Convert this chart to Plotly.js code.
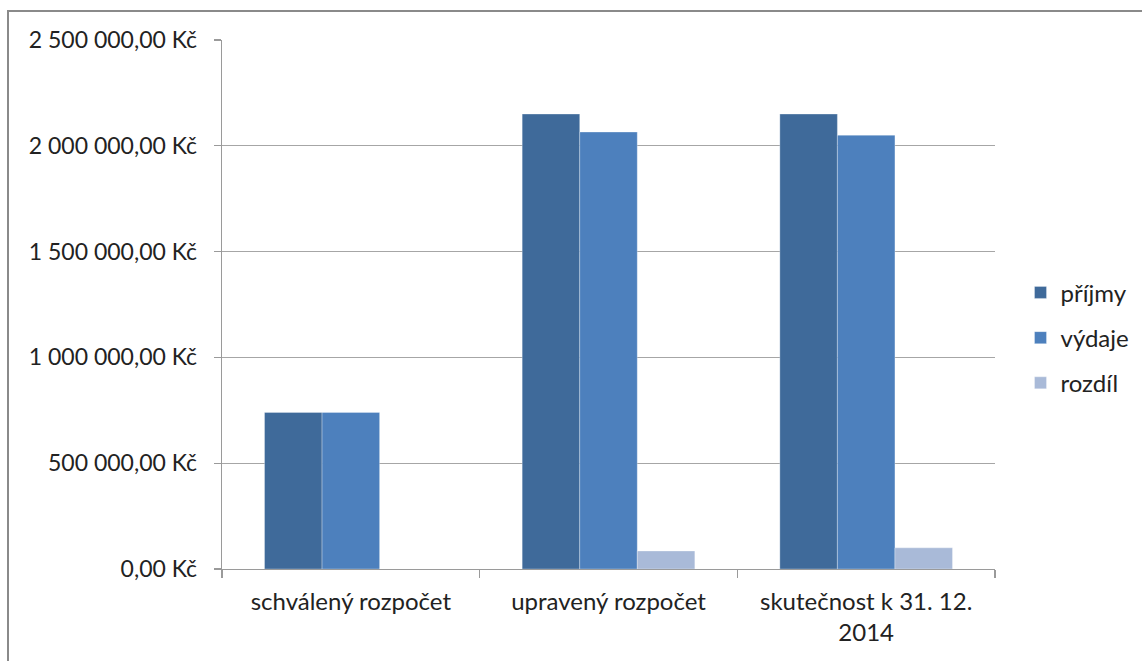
<!DOCTYPE html>
<html>
<head>
<meta charset="utf-8">
<script src="https://cdn.plot.ly/plotly-3.0.1.min.js"></script>
<style>
  html, body { margin: 0; padding: 0; background: #fff; }
  #chart { width: 1142px; height: 661px; position: relative; }
  #frame { position: absolute; left: 7px; top: 10px; right: 0; bottom: 0;
           border-left: 2px solid #8a8a8a; border-top: 2px solid #8a8a8a; pointer-events: none; }
</style>
</head>
<body>
<div id="chart"></div>
<div id="frame"></div>
<script>
const categories = ["schválený rozpočet", "upravený rozpočet", "skutečnost k 31. 12.<br>2014"];
const seriesNames = ["příjmy", "výdaje", "rozdíl"];
const prijmy = [740000, 2150000, 2150000];
const vydaje = [740000, 2065000, 2050000];
const rozdil = [0, 85000, 100000];
const colors = ["#3F6A9A", "#4D80BD", "#A9BAD8"];
const yTickVals = [0, 500000, 1000000, 1500000, 2000000, 2500000];
const yTickText = ["0,00 Kč", "500 000,00 Kč", "1 000 000,00 Kč", "1 500 000,00 Kč", "2 000 000,00 Kč", "2 500 000,00 Kč"];

const allValues = [prijmy, vydaje, rozdil];
const traces = allValues.map((vals, i) => ({
  type: "bar",
  name: seriesNames[i],
  x: categories,
  y: vals,
  legendgroup: "g" + i,
  marker: { color: colors[i], line: { color: "rgba(255,255,255,0.5)", width: 0.6 } },
  hoverinfo: "skip"
}));

const font = "Lato, 'Open Sans', sans-serif";
const layout = {
  width: 1142, height: 661,
  margin: { l: 222, r: 147, t: 40, b: 92, pad: 0, autoexpand: false },
  paper_bgcolor: "#fff", plot_bgcolor: "#fff",
  barmode: "group",
  bargap: 0.33, bargroupgap: 0,
  font: { family: font, size: 22, color: "#222" },
  showlegend: true,
  legend: { x: 1.033, xanchor: "left", y: 0.437, yanchor: "middle",
            font: { family: font, size: 24, color: "#222" },
            tracegroupgap: 11, bgcolor: "rgba(0,0,0,0)" },
  xaxis: {
    type: "category",
    tickson: "boundaries",
    ticks: "outside", ticklen: 8, tickcolor: "#9a9a9a", tickwidth: 1.3,
    showline: true, linecolor: "#9a9a9a", linewidth: 1.3,
    showgrid: false,
    ticklabelstandoff: 11,
    tickfont: { family: font, size: 24, color: "#222" },
    fixedrange: true
  },
  yaxis: {
    range: [0, 2500000],
    tickmode: "array",
    tickvals: yTickVals,
    ticktext: yTickText,
    ticks: "outside", ticklen: 7, tickcolor: "#9a9a9a", tickwidth: 1.3,
    showline: true, linecolor: "#9a9a9a", linewidth: 1.3,
    showgrid: true, gridcolor: "#a6a6a6", gridwidth: 1.2,
    zeroline: false,
    ticklabelstandoff: 12,
    tickfont: { family: font, size: 23, color: "#222" },
    fixedrange: true
  }
};

Plotly.newPlot("chart", traces, layout, { displayModeBar: false, staticPlot: true });
</script>
</body>
</html>
